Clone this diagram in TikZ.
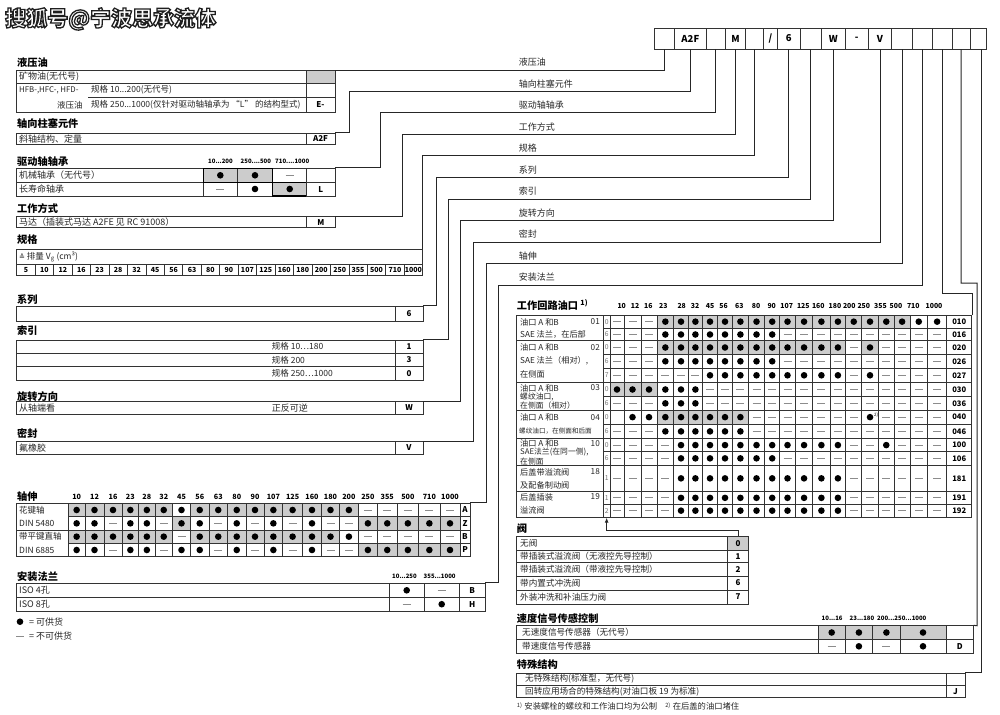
\documentclass[tikz,border=0pt]{standalone}
\usepackage{fontspec}
\setmainfont{Noto Sans CJK SC}
\newfontfamily\dejavu{DejaVu Sans}
\usetikzlibrary{arrows.meta}
\tikzset{
  hd/.style={anchor=west,inner sep=0pt,font=\fontsize{10.2}{11}\selectfont\bfseries},
  tx/.style={anchor=west,inner sep=0pt,font=\fontsize{9}{10}\selectfont,text=black!85},
  sm/.style={anchor=west,inner sep=0pt,font=\fontsize{8.6}{9}\selectfont,text=black!85},
  ps/.style={anchor=west,inner sep=0pt,font=\fontsize{8.2}{9}\selectfont,text=black!85},
  nm/.style={inner sep=0pt,font=\fontsize{6.6}{7}\selectfont\bfseries},
  hn/.style={anchor=west,inner sep=0pt,font=\fontsize{6}{7}\selectfont\bfseries},
  subtx/.style={font=\fontsize{6.8}{7}\selectfont,text=black!55},
  cellsty/.style={draw=black!80,line width=0.7pt,inner sep=0pt,font=\fontsize{8}{9}\selectfont\bfseries},
  tb/.style={draw=black!80,line width=0.7pt},
  con/.style={draw=black!85,line width=1pt},
  gcell/.style={fill=black!20},
  dotc/.style={fill=black},
  dsh/.style={draw=black!45,line width=0.9pt},
  wm/.style={anchor=west,inner sep=0pt,font=\fontsize{21}{22}\selectfont\bfseries},
}
\newcommand\cellnd[7][]{%
  \pgfmathsetmacro\qcx{(#3+#5)/2}\pgfmathsetmacro\qcy{(#4+#6)/2}%
  \pgfmathsetmacro\qcw{#5-#3}\pgfmathsetmacro\qch{#6-#4}%
  \node[cellsty,minimum width=\qcw pt,minimum height=\qch pt,#1] (#2) at (\qcx,\qcy) {#7};}
\newcommand\mydot[2]{\fill[dotc] (#1,#2) circle (3.3pt);}
\newcommand\mydash[2]{\draw[dsh] ({#1-4},#2) -- ({#1+4},#2);}
\newcommand\cellrow[4]{%
  \foreach \sym [count=\k from 0] in {#4}{%
    \pgfmathsetmacro\qxl{#1[\k]}%
    \pgfmathsetmacro\qxr{#1[\k+1]}%
    \if\sym O\fill[gcell] (\qxl,#2) rectangle (\qxr,#3);\fi
    \if\sym M\fill[gcell] (\qxl,#2) rectangle (\qxr,#3);\fi
    \if\sym E\fill[gcell] (\qxl,#2) rectangle (\qxr,#3);\fi
  }%
  \foreach \sym [count=\k from 0] in {#4}{%
    \pgfmathsetmacro\qxl{#1[\k]}%
    \pgfmathsetmacro\qxr{#1[\k+1]}%
    \pgfmathsetmacro\qxc{(\qxl+\qxr)/2}%
    \pgfmathsetmacro\qyc{(#2+#3)/2}%
    \draw[tb] (\qxl,#2) rectangle (\qxr,#3);
    \if\sym o\fill[dotc] (\qxc,\qyc) circle (3.3pt);\fi
    \if\sym O\fill[dotc] (\qxc,\qyc) circle (3.3pt);\fi
    \if\sym s\fill[dotc] (\qxc,\qyc) circle (3.3pt);\node[inner sep=0pt,font=\fontsize{4.5}{5}\selectfont] (supb) at ({\qxc+6},{\qyc-2}) {2)};\fi
    \if\sym m\draw[dsh] ({\qxc-4},\qyc) -- ({\qxc+4},\qyc);\fi
    \if\sym M\draw[dsh] ({\qxc-4},\qyc) -- ({\qxc+4},\qyc);\fi
  }%
}
\def\shB{{68.3,85,104,122,138.7,155,172.5,190.5,209,227.5,246,264,282.7,302.5,321.5,339.5,358.3,377.5,397,418.7,440,460}}
\def\pB{{610,624,641,657,673.7,688.3,702.5,717.5,732.5,748.3,764.7,779.7,795.3,812.8,830,845.8,861.7,878.3,894.2,910,927.5,946.7}}
\begin{document}
\begin{tikzpicture}[x=1pt,y=-1pt]
\fill[white] (0,0) rectangle (1000,714);
\useasboundingbox (0,0) rectangle (1000,714);

% watermark: white letters with a dark outline
\node[wm,text=white] (wm) at (5,19) {\special{pdf:literal direct 2 Tr 1.3 w 0.12 G}搜狐号@宁波思承流体\special{pdf:literal direct 0 Tr}};

% top code boxes
\tikzset{kb/.style={font=\fontsize{9.5}{10}\selectfont\bfseries}}
\cellnd[kb]{k1}{654.3}{28}{674.7}{49}{}
\cellnd[kb]{k2}{674.7}{28}{706}{49}{A2F}
\cellnd[kb]{k3}{706}{28}{725.3}{49}{}
\cellnd[kb]{k4}{725.3}{28}{745.7}{49}{M}
\cellnd[kb]{k5}{745.7}{28}{763}{49}{}
\cellnd[kb]{k6}{763}{28}{777.7}{49}{/}
\cellnd[kb]{k7}{777.7}{28}{800}{49}{6}
\cellnd[kb]{k8}{800}{28}{821.7}{49}{}
\cellnd[kb]{k9}{821.7}{28}{845}{49}{W}
\cellnd[kb]{k10}{845}{28}{868.3}{49}{-}
\cellnd[kb]{k11}{868.3}{28}{891.7}{49}{V}
\cellnd[kb]{k12}{891.7}{28}{912.3}{49}{}
\cellnd[kb]{k13}{912.3}{28}{932.7}{49}{}
\cellnd[kb]{k14}{932.7}{28}{952.3}{49}{}
\cellnd[kb]{k15}{952.3}{28}{970}{49}{}
\cellnd[kb]{k16}{970}{28}{986}{49}{}

% right labels
\foreach \t/\yy [count=\i] in {液压油/62.5,轴向柱塞元件/84,驱动轴轴承/105.5,工作方式/127,规格/148.5,系列/170,索引/191.5,旋转方向/213,密封/234.5,轴伸/256,安装法兰/277.5}{
  \node[tx] (rl\i) at (518.7,\yy) {\t};}

% ---------- 液压油
\node[hd] (h1) at (17,62.5) {液压油};
\draw[tb] (16.7,70.5) rectangle (306,112.5);
\draw[tb] (16.7,83) -- (306,83);
\draw[tb] (88,97) -- (306,97);
\cellnd[fill=black!20]{oilc1}{306}{70.5}{335}{83}{}
\cellnd{oilc2}{306}{83}{335}{97}{}
\cellnd{oilc3}{306}{97}{335}{112.5}{E-}
\node[tx] (t11) at (19,76.8) {矿物油(无代号)};
\node[tx,font=\fontsize{7.8}{9}\selectfont] (t12) at (19,90) {HFB-,HFC-, HFD-};
\node[tx,font=\fontsize{8.5}{9}\selectfont] (t13) at (91,90) {规格 10...200(无代号)};
\node[tx,font=\fontsize{8.5}{9}\selectfont] (t14) at (57,105) {液压油};
\node[tx,font=\fontsize{8.5}{9}\selectfont] (t15) at (91,105) {规格 250...1000(仅针对驱动轴轴承为 “L” 的结构型式)};

% ---------- 轴向柱塞元件
\node[hd] (h2) at (17,124) {轴向柱塞元件};
\draw[tb] (16.7,133.3) rectangle (306,144.3);
\cellnd{a2fc}{306}{133.3}{335}{144.3}{A2F}
\node[tx] (t21) at (19,138.8) {斜轴结构、定量};

% ---------- 驱动轴轴承
\node[hd] (h3) at (17,161.5) {驱动轴轴承};
\node[hn] (n31) at (208,161.5) {10...200};
\node[hn] (n32) at (240.5,161.5) {250....500};
\node[hn] (n33) at (275,161.5) {710....1000};
\fill[gcell] (203.3,168.3) rectangle (272.7,182.3);
\fill[gcell] (272.7,182.3) rectangle (306.7,196);
\draw[tb] (16.7,168.3) rectangle (306.7,196);
\draw[tb] (16.7,182.3) -- (306.7,182.3);
\foreach \xx in {203.3,237.3,272.7} \draw[tb] (\xx,168.3) -- (\xx,196);
\draw[line width=1.2pt] (203.3,168.3) rectangle (272.7,182.3);
\draw[line width=1.2pt] (272.7,182.3) rectangle (306.7,196);
\cellnd{brc1}{306.7}{168.3}{335}{182.3}{}
\cellnd{brc2}{306.7}{182.3}{335}{196}{L}
\node[tx] (t31) at (19,175.3) {机械轴承（无代号）};
\node[tx] (t32) at (19,189) {长寿命轴承};
\mydot{220.3}{175.3}\mydot{255}{175.3}\mydash{289.7}{175.3}
\mydash{220.3}{189}\mydot{255}{189}\mydot{289.7}{189}

% ---------- 工作方式
\node[hd] (h4) at (17,208.3) {工作方式};
\draw[tb] (16.7,216.7) rectangle (306.7,227.5);
\cellnd{mc}{306.7}{216.7}{335}{227.5}{M}
\node[tx] (t41) at (19,222.1) {马达（插装式马达 A2FE 见 RC 91008）};

% ---------- 规格
\node[hd] (h5) at (17,240) {规格};
\draw[tb] (16.7,249) rectangle (422.7,275.7);
\draw[tb] (16.7,264.3) -- (422.7,264.3);
\node[tx,font=\fontsize{8.5}{9}\selectfont] (t51) at (19,256.7) {{\dejavu\fontsize{7}{8}\selectfont ≙} 排量 V\textsubscript{g} (cm³)};
\foreach \v [count=\k from 0] in {5,10,12,16,23,28,32,45,56,63,80,90,107,125,160,180,200,250,355,500,710,1000}{
  \pgfmathsetmacro\qa{16.7+18.4545*\k}
  \pgfmathsetmacro\qb{\qa+18.4545}
  \draw[tb] (\qa,264.3) -- (\qa,275.7);
  \node[nm,font=\fontsize{7}{8}\selectfont\bfseries] (sz\k) at ({(\qa+\qb)/2},270) {\v};
}
\coordinate (sizeNE) at (422.7,249);

% ---------- 系列
\node[hd] (h6) at (17,300) {系列};
\draw[tb] (16.7,306) rectangle (395,321.7);
\cellnd{serc}{395}{306}{423}{321.7}{6}

% ---------- 索引
\node[hd] (h7) at (17,330.5) {索引};
\draw[tb] (16.7,340) rectangle (395,380.7);
\draw[tb] (16.7,353.3) -- (395,353.3);
\draw[tb] (16.7,366.7) -- (395,366.7);
\cellnd{idc1}{395}{340}{423}{353.3}{1}
\cellnd{idc2}{395}{353.3}{423}{366.7}{3}
\cellnd{idc3}{395}{366.7}{423}{380.7}{0}
\node[tx,font=\fontsize{8.5}{9}\selectfont] (t71) at (271.7,346.7) {规格 10⋯180};
\node[tx,font=\fontsize{8.5}{9}\selectfont] (t72) at (271.7,360) {规格 200};
\node[tx,font=\fontsize{8.5}{9}\selectfont] (t73) at (271.7,373.7) {规格 250⋯1000};

% ---------- 旋转方向
\node[hd] (h8) at (17,396.5) {旋转方向};
\draw[tb] (16.7,401.7) rectangle (395,414.3);
\cellnd{rotc}{395}{401.7}{423}{414.3}{W}
\node[tx] (t81) at (19,408) {从轴端看};
\node[tx] (t82) at (271.7,408) {正反可逆};

% ---------- 密封
\node[hd] (h9) at (17,433.5) {密封};
\draw[tb] (16.7,441.7) rectangle (395,454.3);
\cellnd{sealc}{395}{441.7}{423}{454.3}{V}
\node[tx] (t91) at (19,448) {氟橡胶};

% ---------- 轴伸
\node[hd] (h10) at (17,496.7) {轴伸};
\foreach \v [count=\k from 0] in {10,12,16,23,28,32,45,56,63,80,90,107,125,160,180,200,250,355,500,710,1000}{
  \pgfmathsetmacro\qa{\shB[\k]}\pgfmathsetmacro\qb{\shB[\k+1]}
  \node[nm,font=\fontsize{7.2}{8}\selectfont\bfseries] (shh\k) at ({(\qa+\qb)/2},496.7) {\v};}
\cellrow\shB{503.3}{516.7}{O,O,O,O,O,O,o,O,O,O,O,O,O,O,O,O,m,m,m,m,m}
\cellrow\shB{516.7}{530}{o,o,m,o,o,m,O,o,m,o,m,o,m,o,m,m,O,O,O,O,O}
\cellrow\shB{530}{543.3}{O,O,O,O,O,O,m,O,O,O,O,O,O,O,O,o,m,m,m,m,m}
\cellrow\shB{543.3}{556.7}{o,o,m,o,o,m,o,o,m,o,m,o,m,o,m,m,O,O,O,O,O}
\draw[tb] (16.7,503.3) rectangle (68.3,556.7);
\draw[tb] (16.7,530) -- (68.3,530);
\cellnd{shA}{460}{503.3}{470}{516.7}{A}
\cellnd{shZ}{460}{516.7}{470}{530}{Z}
\cellnd{shB}{460}{530}{470}{543.3}{B}
\cellnd{shP}{460}{543.3}{470}{556.7}{P}
\node[tx,font=\fontsize{8.5}{9}\selectfont] (t101) at (19,510) {花键轴};
\node[tx,font=\fontsize{8.5}{9}\selectfont] (t102) at (19,523.3) {DIN 5480};
\node[tx,font=\fontsize{8.5}{9}\selectfont] (t103) at (19,536.7) {带平键直轴};
\node[tx,font=\fontsize{8.5}{9}\selectfont] (t104) at (19,550) {DIN 6885};

% ---------- 安装法兰
\node[hd] (h11) at (17,576.7) {安装法兰};
\node[hn] (n111) at (392,576.7) {10...250};
\node[hn] (n112) at (423.5,576.7) {355...1000};
\draw[tb] (16.7,583.3) rectangle (459.3,611);
\draw[tb] (16.7,597.3) -- (459.3,597.3);
\draw[tb] (389.3,583.3) -- (389.3,611);
\draw[tb] (424,583.3) -- (424,611);
\cellnd{flB}{459.3}{583.3}{485}{597.3}{B}
\cellnd{flH}{459.3}{597.3}{485}{611}{H}
\node[tx] (t111) at (19,590.3) {ISO 4孔};
\node[tx] (t112) at (19,604.2) {ISO 8孔};
\mydot{406.7}{590.3}\mydash{441.7}{590.3}\mydash{406.7}{604.2}\mydot{441.7}{604.2}

% legend
\mydot{20}{621.7}
\node[tx] (lg1) at (29,621.7) {= 可供货};
\mydash{20}{636}
\node[tx] (lg2) at (29,636) {= 不可供货};

% ---------- left connectors
\draw[con] (oilc1.north east) -| (k1.south);
\draw[con] (a2fc.north east) -| (349,91.5) -| (k2.south);
\draw[con] (brc1.north east) -| (380,113) -| (k3.south);
\draw[con] (mc.north east) -| (402,134.5) -| (k4.south);
\draw[con] (sizeNE) -- (422.7,156) -| (k5.south);
\draw[con] (serc.north east) -| (436,177.5) -| (k7.south);
\draw[con] (idc1.north east) -| (448,199) -| (k8.south);
\draw[con] (rotc.north east) -| (460.6,220.5) -| (k9.south);
\draw[con] (sealc.north east) -| (473.4,242) -| (k11.south);
\draw[con] (shA.north east) -| (486.2,263.5) -| (k12.south);
\draw[con] (flB.north east) -| (498.2,285) -| (k13.south);

% ---------- 工作回路油口
\node[hd] (h12) at (516.7,305) {工作回路油口 \textsuperscript{1)}};
\foreach \v/\xx [count=\k] in {10/621.7,12/635,16/648.3,23/663.3,28/681.7,32/695,45/710,56/723.5,63/739.3,80/756,90/771.7,107/786.7,125/803.3,160/818.3,180/835,200/849.3,250/863.8,355/880.5,500/896,710/913.3,1000/934}{
  \node[nm,font=\fontsize{6.9}{7}\selectfont\bfseries] (ph\k) at (\xx,306) {\v};}
\cellrow\pB{315}{328.3}{m,m,m,O,O,O,O,O,O,O,O,O,O,O,O,O,O,O,O,o,o}
\cellrow\pB{328.3}{340.7}{m,m,m,o,o,o,o,o,o,o,o,m,m,m,m,m,m,m,m,m,m}
\cellrow\pB{340.7}{354.3}{m,m,m,O,O,O,O,O,O,O,O,O,O,O,O,m,O,m,m,m,m}
\cellrow\pB{354.3}{368.3}{m,m,m,o,o,o,o,o,o,o,o,m,m,m,m,m,m,m,m,m,m}
\cellrow\pB{368.3}{382.3}{m,m,m,m,m,m,o,o,o,o,o,o,o,o,o,m,o,m,m,m,m}
\cellrow\pB{382.3}{396.7}{O,O,O,o,o,o,m,m,m,m,m,m,m,m,m,m,m,m,m,m,m}
\cellrow\pB{396.7}{410}{m,m,m,o,o,o,m,m,m,m,m,m,m,m,m,m,m,m,m,m,m}
\cellrow\pB{410}{424.3}{e,o,o,O,O,O,O,O,O,m,m,m,m,m,m,m,s,m,m,m,m}
\cellrow\pB{424.3}{438.5}{m,m,m,o,o,o,o,o,o,m,m,m,m,m,m,m,m,m,m,m,m}
\cellrow\pB{438.5}{451.7}{m,m,m,m,o,o,o,o,o,o,o,o,o,o,o,m,m,o,m,m,m}
\cellrow\pB{451.7}{465}{m,m,m,m,o,o,o,o,o,o,o,m,m,m,m,m,m,m,m,m,m}
\cellrow\pB{465}{491.7}{m,m,m,m,o,o,o,o,o,o,o,o,o,o,o,m,m,m,m,m,m}
\cellrow\pB{491.7}{504}{m,m,m,m,o,o,o,o,o,o,o,o,o,o,o,m,m,m,m,m,m}
\cellrow\pB{504}{517.3}{m,m,m,m,o,o,o,o,o,o,o,o,o,o,o,m,m,m,m,m,m}
\foreach \ya/\yb/\sd/\cd [count=\r] in {315/328.3/0/010,328.3/340.7/6/016,340.7/354.3/0/020,354.3/368.3/6/026,368.3/382.3/7/027,382.3/396.7/0/030,396.7/410/6/036,410/424.3/0/040,424.3/438.5/6/046,438.5/451.7/0/100,451.7/465/6/106,465/491.7/1/181,491.7/504/1/191,504/517.3/2/192}{
  \cellnd[subtx]{ps\r}{603.3}{\ya}{610}{\yb}{\sd}
  \cellnd[font=\fontsize{7.6}{8}\selectfont\bfseries]{pc\r}{946.7}{\ya}{971.7}{\yb}{\cd}
}
\draw[tb] (516.7,315) rectangle (603.3,517.3);
\foreach \yy in {340.7,382.3,410,438.5,465,491.7} \draw[tb] (516.7,\yy) -- (603.3,\yy);
\foreach \a/\b/\yy [count=\i] in {油口 A 和B/01/322,油口 A 和B/02/347.5,油口 A 和B/03/388,油口 A 和B/04/417.3,油口 A 和B/10/443.3,后盖带溢流阀/18/472,后盖插装/19/497}{
  \node[ps] (gl\i) at (520,\yy) {\a};
  \node[ps,anchor=east] (gn\i) at (600,\yy) {\b};}
\node[ps] (g12) at (520,334.5) {SAE 法兰，在后部};
\node[ps] (g22) at (520,360.5) {SAE 法兰（相对）,};
\node[ps] (g23) at (520,374) {在侧面};
\node[ps,font=\fontsize{7.8}{8}\selectfont] (g32) at (520,396.8) {螺纹油口,};
\node[ps,font=\fontsize{7.8}{8}\selectfont] (g33) at (520,405.6) {在侧面（相对）};
\node[ps,font=\fontsize{6.6}{7}\selectfont] (g42) at (519,431) {螺纹油口，在侧面和后面};
\node[ps,font=\fontsize{7.8}{8}\selectfont] (g52) at (520,452.4) {SAE法兰(在同一侧),};
\node[ps,font=\fontsize{7.8}{8}\selectfont] (g53) at (520,461.3) {在侧面};
\node[ps] (g62) at (520,485) {及配备制动阀};
\node[ps] (g72) at (520,510) {溢流阀};

% ---------- 阀
\node[hd] (h13) at (516.7,528.5) {阀};
\draw[tb] (516.7,536.7) rectangle (727.7,604);
\foreach \yy in {550,562.7,576,590} \draw[tb] (516.7,\yy) -- (727.7,\yy);
\cellnd[fill=black!20]{vc0}{727.7}{536.7}{748.3}{550}{0}
\cellnd{vc1}{727.7}{550}{748.3}{562.7}{1}
\cellnd{vc2}{727.7}{562.7}{748.3}{576}{2}
\cellnd{vc6}{727.7}{576}{748.3}{590}{6}
\cellnd{vc7}{727.7}{590}{748.3}{604}{7}
\node[sm] (v1) at (520,543.3) {无阀};
\node[sm] (v2) at (520,556.4) {带插装式溢流阀（无液控先导控制）};
\node[sm] (v3) at (520,569.4) {带插装式溢流阀（带液控先导控制）};
\node[sm] (v4) at (520,583) {带内置式冲洗阀};
\node[sm] (v5) at (520,597) {外装冲洗和补油压力阀};
\draw[con,-{Latex[length=5pt,width=4pt]}] (vc0.north) -- (738,530) -| (ps14.south);

% ---------- 速度信号传感控制
\node[hd] (h14) at (516.7,619) {速度信号传感控制};
\node[hn] (n141) at (821.5,618.5) {10...16};
\node[hn] (n142) at (849.5,618.5) {23...180};
\node[hn] (n143) at (877,618.5) {200...250...1000};
\fill[gcell] (818.3,625.7) rectangle (946,639.3);
\draw[tb] (516.7,625.7) rectangle (946,653.3);
\draw[tb] (516.7,639.3) -- (946,639.3);
\foreach \xx in {818.3,845,872.7,900} \draw[tb] (\xx,625.7) -- (\xx,653.3);
\cellnd{spc1}{946}{625.7}{973.3}{639.3}{}
\cellnd{spc2}{946}{639.3}{973.3}{653.3}{D}
\node[sm] (s1) at (522,632.5) {无速度信号传感器（无代号）};
\node[sm] (s2) at (522,646.3) {带速度信号传感器};
\mydot{831.7}{632.5}\mydot{858.9}{632.5}\mydot{886.4}{632.5}\mydot{923}{632.5}
\mydash{831.7}{646.3}\mydot{858.9}{646.3}\mydash{886.4}{646.3}\mydot{923}{646.3}

% ---------- 特殊结构
\node[hd] (h15) at (516.7,665) {特殊结构};
\draw[tb] (516.7,673.3) rectangle (946,697.7);
\draw[tb] (516.7,685) -- (946,685);
\cellnd{sxc1}{946}{673.3}{965}{685}{}
\cellnd{sxc2}{946}{685}{965}{697.7}{J}
\node[sm] (x1) at (525,679.2) {无特殊结构(标准型，无代号)};
\node[sm] (x2) at (525,691.3) {回转应用场合的特殊结构(对油口板 19 为标准)};

\node[sm,font=\fontsize{8.3}{9}\selectfont] (fn) at (516.7,706.5) {\textsuperscript{1)} 安装螺栓的螺纹和工作油口均为公制\hspace{8pt}\textsuperscript{2)} 在后盖的油口堵住};

% ---------- right connectors
\draw[con] (k14.south) -- (942.5,293) -| (pc1.north east);
\draw[con] (k15.south) -- (961.15,283) -| (977,625.7) -- (spc1.north east);
\draw[con] ([xshift=3pt]k16.south) |- (sxc1.north east);
\end{tikzpicture}
\end{document}
